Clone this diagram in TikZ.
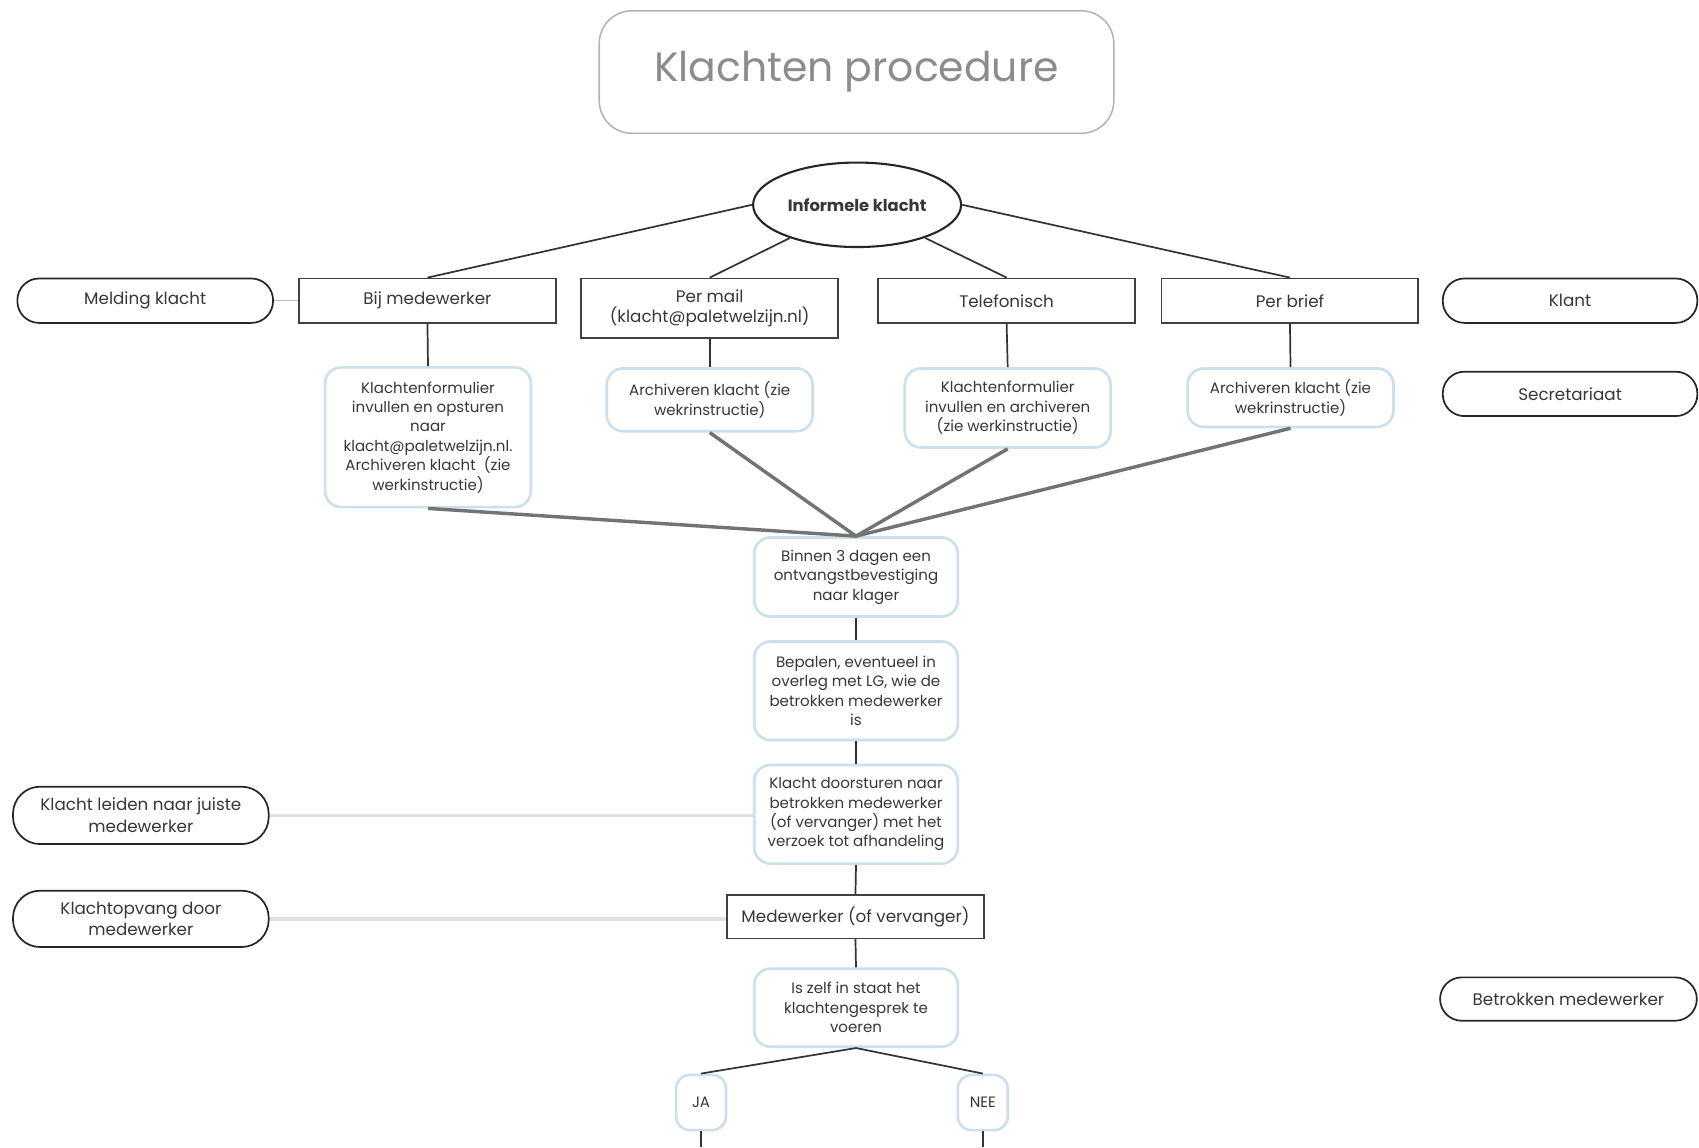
\documentclass[tikz,border=0pt]{standalone}
\usepackage{fontspec}
\setmainfont{Poppins}
\usetikzlibrary{shapes.geometric}
\definecolor{bluebd}{RGB}{204,224,236}
\definecolor{txt}{RGB}{55,55,55}
\definecolor{titletxt}{RGB}{140,140,140}
\begin{document}
\begin{tikzpicture}[x=0.02cm,y=-0.02cm,
  every node/.style={text=txt, inner sep=1pt, align=center},
  rectbox/.style={draw=black!75, line width=0.9pt, minimum height=0.82cm, minimum width=4.74cm, font=\fontsize{8.8}{11}\selectfont},
  pillbox/.style={draw=black!85, line width=0.9pt, rounded corners=0.4cm, minimum height=0.82cm, minimum width=4.72cm, font=\fontsize{8.8}{11.5}\selectfont},
  bluebox/.style={draw=bluebd, line width=1.4pt, rounded corners=0.3cm, minimum width=3.8cm, font=\fontsize{7.9}{10.2}\selectfont},
  link/.style={draw=black!80, line width=0.9pt},
  merge/.style={draw=black!55, line width=1.8pt},
  side/.style={draw=black!12, line width=1.8pt},
]
\useasboundingbox[fill=white] (0,0) rectangle (1568,1059);

% title
\node[draw=black!30, line width=0.8pt, rounded corners=0.6cm, minimum width=9.5cm, minimum height=2.26cm,
      text=titletxt, font=\fontsize{21.5}{26}\selectfont] (title) at (790.5,66.5) {Klachten procedure};

% informal complaint
\node[ellipse, draw=black!85, line width=1.1pt, minimum width=3.84cm, minimum height=1.56cm, inner sep=0pt,
      font=\bfseries\fontsize{8.6}{10}\selectfont] (inf) at (791,189) {Informele klacht};

% channel rectangles
\node[rectbox] (bij) at (394.5,277.5) {Bij medewerker};
\node[rectbox, minimum height=1.1cm] (mail) at (655,284.5) {Per mail\\(klacht@paletwelzijn.nl)};
\node[rectbox] (tel) at (929,277.5) {Telefonisch};
\node[rectbox] (brief) at (1190.5,277.5) {Per brief};

% side pills
\node[pillbox] (melding) at (134,277.5) {Melding klacht};
\node[pillbox, minimum width=4.70cm] (klant) at (1449,277.5) {Klant};
\node[pillbox, minimum width=4.70cm] (secr) at (1449,363.5) {Secretariaat};
\node[pillbox, minimum height=1.06cm, rounded corners=0.5cm] (leiden) at (130,752.5) {Klacht leiden naar juiste\\medewerker};
\node[pillbox, minimum height=1.04cm, rounded corners=0.5cm] (opvang) at (130,848) {Klachtopvang door\\medewerker};
\node[pillbox, minimum height=0.8cm, minimum width=4.74cm] (betr) at (1447.5,922) {Betrokken medewerker};

% blue boxes row
\node[bluebox, minimum height=2.58cm] (b1) at (395,403.5) {Klachtenformulier\\invullen en opsturen\\naar\\klacht@paletwelzijn.nl.\\Archiveren klacht\ \ (zie\\werkinstructie)};
\node[bluebox, minimum height=1.16cm] (b2) at (655,369) {Archiveren klacht (zie\\wekrinstructie)};
\node[bluebox, minimum height=1.46cm] (b3) at (930,376.5) {Klachtenformulier\\invullen en archiveren\\(zie werkinstructie)};
\node[bluebox, minimum height=1.08cm] (b4) at (1191,367) {Archiveren klacht (zie\\wekrinstructie)};

% central column
\node[bluebox, minimum width=3.76cm, minimum height=1.46cm] (c1) at (790,532.5) {Binnen 3 dagen een\\ontvangstbevestiging\\naar klager};
\node[bluebox, minimum width=3.76cm, minimum height=1.82cm] (c2) at (790,637.5) {Bepalen, eventueel in\\overleg met LG, wie de\\betrokken medewerker\\is};
\node[bluebox, minimum width=3.76cm, minimum height=1.82cm] (c3) at (790,751.5) {Klacht doorsturen naar\\betrokken medewerker\\(of vervanger) met het\\verzoek tot afhandeling};
\node[rectbox, minimum height=0.8cm] (medew) at (789.5,846) {Medewerker (of vervanger)};
\node[bluebox, minimum width=3.76cm, minimum height=1.44cm] (c4) at (790,930) {Is zelf in staat het\\klachtengesprek te\\voeren};
\node[bluebox, minimum width=0.92cm, minimum height=1.02cm, rounded corners=0.25cm] (ja) at (647,1017.5) {JA};
\node[bluebox, minimum width=0.92cm, minimum height=1.02cm, rounded corners=0.25cm] (nee) at (907,1017.5) {NEE};
\coordinate (jaend) at (647,1059);
\coordinate (neeend) at (907,1059);

% connectors from informal complaint
\draw[link] (inf.west) -- (bij.north);
\draw[link] (inf) -- (mail.north);
\draw[link] (inf) -- (tel.north);
\draw[link] (inf.east) -- (brief.north);

\draw[link] (bij.south) -- (b1.north);
\draw[link] (mail.south) -- (b2.north);
\draw[link] (tel.south) -- (b3.north);
\draw[link] (brief.south) -- (b4.north);

% merging lines
\draw[merge] (b1.south) -- (c1.north);
\draw[merge] (b2.south) -- (c1.north);
\draw[merge] (b3.south) -- (c1.north);
\draw[merge] (b4.south) -- (c1.north);

% central chain
\draw[link] (c1.south) -- (c2.north);
\draw[link] (c2.south) -- (c3.north);
\draw[link] (c3.south) -- (medew.north);
\draw[link] (medew.south) -- (c4.north);
\draw[link] (c4.south) -- (ja.north);
\draw[link] (c4.south) -- (nee.north);
\draw[link] (ja.south) -- (jaend);
\draw[link] (nee.south) -- (neeend);

% side connections
\draw[draw=black!25, line width=0.8pt] (melding.east) -- (bij.west);
\draw[side] (leiden.east) -- (c3.west |- leiden.east);
\draw[side] (opvang.east) -- (medew.west |- opvang.east);
\end{tikzpicture}
\end{document}
